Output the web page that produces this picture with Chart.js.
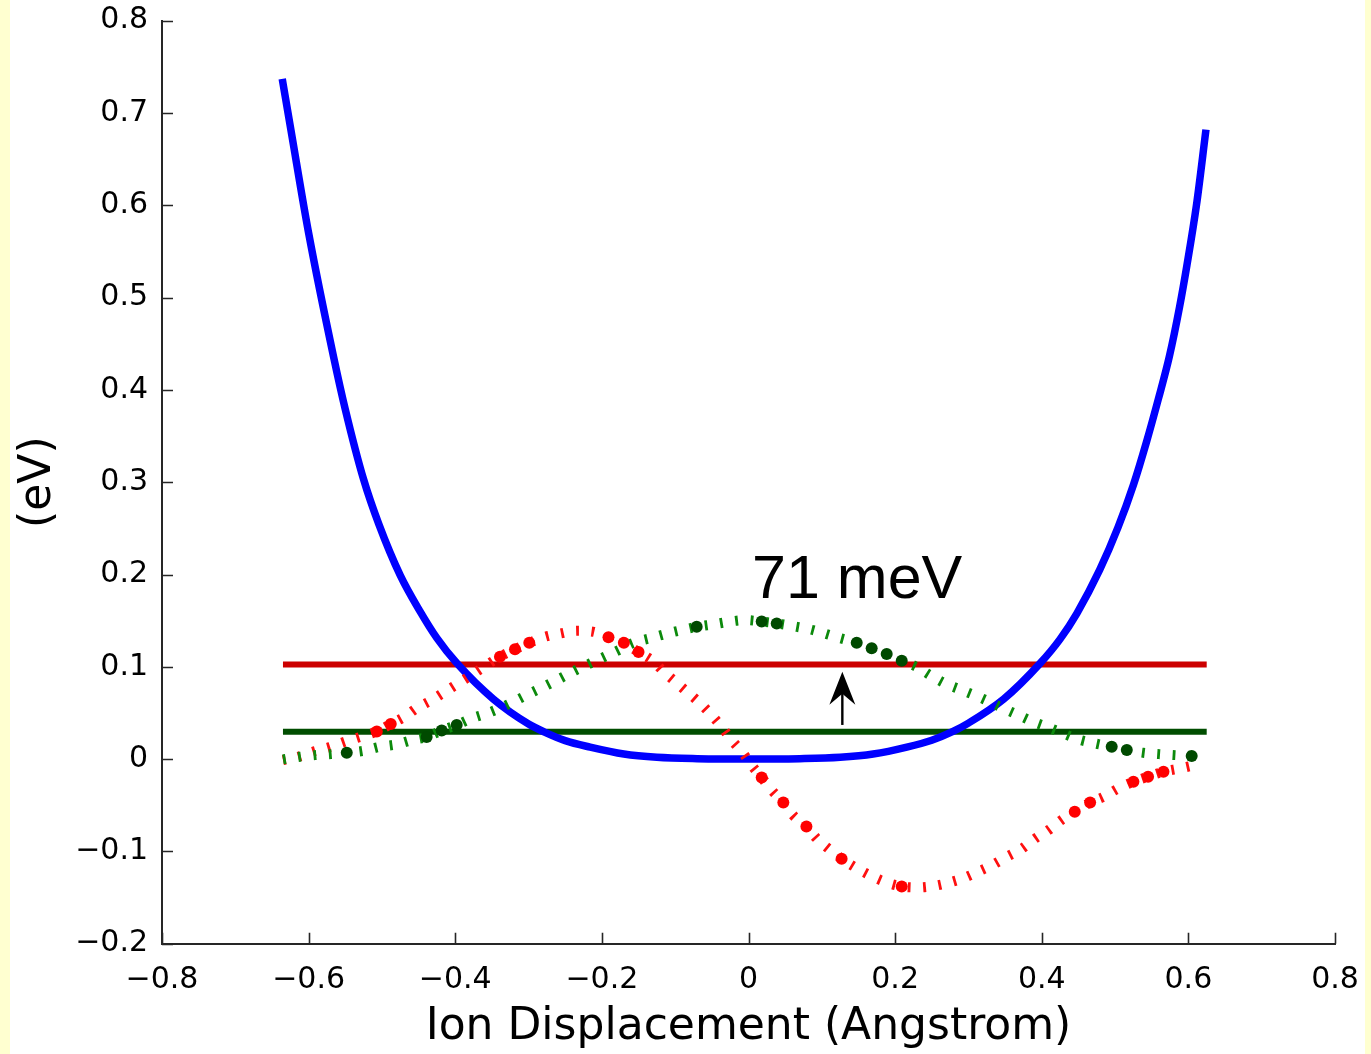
<!DOCTYPE html>
<html>
<head>
<meta charset="utf-8">
<script src="https://cdn.jsdelivr.net/npm/chart.js@4.4.1/dist/chart.umd.min.js"></script>
<style>
  html, body { margin: 0; padding: 0; background: #FFFFD0; width: 1371px; height: 1054px; overflow: hidden; }
  #wrap { position: absolute; left: 10px; top: 0; width: 1355px; height: 1054px; background: #ffffff; }
  canvas { display: block; }
</style>
</head>
<body>
<div id="wrap"><canvas id="c" width="1355" height="1054"></canvas></div>
<script>
// ---------- data ----------
const xTickLabels = ['\u22120.8', '\u22120.6', '\u22120.4', '\u22120.2', '0', '0.2', '0.4', '0.6', '0.8'];
const yTickLabels = ['\u22120.2', '\u22120.1', '0', '0.1', '0.2', '0.3', '0.4', '0.5', '0.6', '0.7', '0.8'];

const blueX = [-0.636,-0.624,-0.600,-0.566,-0.550,-0.525,-0.504,-0.475,-0.448,-0.425,-0.398,-0.348,-0.300,-0.279,-0.250,-0.216,-0.170,-0.125,-0.070,0,0.070,0.125,0.170,0.216,0.250,0.279,0.300,0.348,0.398,0.425,0.448,0.479,0.504,0.525,0.543,0.559,0.574,0.588,0.598,0.611,0.624];
const blueY = [0.737,0.681,0.570,0.436,0.379,0.303,0.254,0.199,0.160,0.131,0.104,0.065,0.038,0.0295,0.020,0.013,0.0055,0.002,0.0005,0,0.0005,0.002,0.0055,0.013,0.0205,0.030,0.039,0.065,0.104,0.130,0.158,0.205,0.251,0.297,0.344,0.390,0.436,0.490,0.535,0.600,0.682];

const levelX = [-0.635, 0.625];
const groundLevel = 0.0296;
const excitedLevel = 0.1026;

const redX = [-0.635,-0.614,-0.594,-0.571,-0.550,-0.530,-0.507,-0.488,-0.469,-0.453,-0.432,-0.414,-0.396,-0.378,-0.357,-0.339,-0.3185,-0.299,-0.278,-0.257,-0.234,-0.212,-0.191,-0.170,-0.150,-0.130,-0.116,-0.100,-0.084,-0.068,-0.0525,-0.0366,-0.023,-0.009,0.004,0.018,0.032,0.0475,0.061,0.079,0.093,0.109,0.127,0.145,0.166,0.186,0.209,0.229,0.251,0.2725,0.293,0.313,0.332,0.352,0.373,0.391,0.409,0.427,0.445,0.466,0.484,0.504,0.525,0.545,0.566,0.589,0.609];
const redY = [-0.001,0.0025,0.008,0.013,0.019,0.024,0.030,0.038,0.046,0.055,0.064,0.073,0.082,0.091,0.102,0.111,0.119,0.126,0.1325,0.136,0.139,0.138,0.132,0.126,0.116,0.106,0.095,0.084,0.073,0.062,0.0495,0.035,0.0206,0.008,-0.0065,-0.020,-0.034,-0.047,-0.061,-0.073,-0.086,-0.097,-0.108,-0.117,-0.126,-0.133,-0.138,-0.139,-0.1376,-0.134,-0.129,-0.122,-0.115,-0.106,-0.097,-0.086,-0.077,-0.066,-0.057,-0.047,-0.041,-0.032,-0.0246,-0.019,-0.0137,-0.010,-0.0065];
const redDotX = [-0.507,-0.488,-0.339,-0.3185,-0.299,-0.191,-0.170,-0.150,0.018,0.0475,0.079,0.127,0.209,0.445,0.466,0.525,0.545,0.566];
const redDotY = [0.030,0.038,0.111,0.119,0.126,0.132,0.126,0.116,-0.020,-0.047,-0.073,-0.108,-0.138,-0.057,-0.047,-0.0246,-0.019,-0.0137];

const greenX = [-0.635,-0.612,-0.591,-0.569,-0.548,-0.525,-0.503,-0.480,-0.459,-0.439,-0.4185,-0.398,-0.378,-0.357,-0.337,-0.316,-0.296,-0.275,-0.257,-0.237,-0.216,-0.196,-0.175,-0.157,-0.134,-0.114,-0.091,-0.0707,-0.048,-0.025,-0.005,0.018,0.0385,0.061,0.084,0.104,0.125,0.1476,0.168,0.1885,0.209,0.229,0.2476,0.268,0.2885,0.309,0.329,0.3476,0.368,0.3885,0.409,0.4294,0.450,0.4727,0.4954,0.516,0.5385,0.560,0.582,0.6045];
const greenY = [-0.0003,0.0025,0.0043,0.0054,0.0069,0.009,0.0133,0.016,0.0206,0.024,0.031,0.037,0.044,0.0495,0.056,0.064,0.072,0.080,0.0874,0.0957,0.1037,0.111,0.119,0.126,0.131,0.1354,0.1398,0.1433,0.146,0.149,0.1506,0.149,0.147,0.144,0.1405,0.136,0.131,0.126,0.120,0.1138,0.1065,0.100,0.091,0.082,0.0755,0.069,0.062,0.055,0.0477,0.0404,0.0343,0.0278,0.0213,0.017,0.0133,0.0098,0.0068,0.0054,0.0043,0.0033];
const greenDotX = [-0.548,-0.439,-0.4185,-0.398,-0.0707,0.018,0.0385,0.1476,0.168,0.1885,0.209,0.4954,0.516,0.6045];
const greenDotY = [0.0069,0.024,0.031,0.037,0.1433,0.149,0.147,0.126,0.120,0.1138,0.1065,0.0133,0.0098,0.0033];

const arrowX = 0.128;
const arrowFrom = 0.037;
const arrowTo = 0.0947;
const gapLabel = '71 meV';
const gapLabelPos = [0.0048, 0.1744];

// ---------- helpers ----------
const pts = (xs, ys) => xs.map((x, i) => ({ x: x, y: ys[i] }));

const inwardTicks = {
  id: 'inwardTicks',
  afterDraw(chart) {
    const ctx = chart.ctx, xs = chart.scales.x, ys = chart.scales.y, a = chart.chartArea;
    ctx.save();
    ctx.strokeStyle = '#262626';
    ctx.lineWidth = 1.6;
    ctx.beginPath();
    xs.ticks.forEach(t => {
      const p = Math.round(xs.getPixelForValue(t.value)) + 0.5;
      ctx.moveTo(p, a.bottom); ctx.lineTo(p, a.bottom - 11);
    });
    ys.ticks.forEach(t => {
      const p = Math.round(ys.getPixelForValue(t.value)) + 0.5;
      ctx.moveTo(a.left, p); ctx.lineTo(a.left + 11, p);
    });
    ctx.stroke();
    ctx.restore();
  }
};

const annotations = {
  id: 'annotations',
  afterDatasetsDraw(chart) {
    const ctx = chart.ctx, xs = chart.scales.x, ys = chart.scales.y;
    const ax = xs.getPixelForValue(arrowX);
    const y0 = ys.getPixelForValue(arrowFrom);
    const y1 = ys.getPixelForValue(arrowTo);
    ctx.save();
    ctx.strokeStyle = '#000';
    ctx.fillStyle = '#000';
    ctx.lineWidth = 2.4;
    ctx.beginPath();
    ctx.moveTo(ax, y0); ctx.lineTo(ax, y1 + 20);
    ctx.stroke();
    ctx.beginPath();
    ctx.moveTo(ax, y1);
    ctx.lineTo(ax - 13, y1 + 33);
    ctx.lineTo(ax, y1 + 22);
    ctx.lineTo(ax + 13, y1 + 33);
    ctx.closePath();
    ctx.fill();
    ctx.font = '61px "Liberation Sans", Arial, sans-serif';
    ctx.textAlign = 'left';
    ctx.textBaseline = 'alphabetic';
    ctx.fillText(gapLabel, xs.getPixelForValue(gapLabelPos[0]), ys.getPixelForValue(gapLabelPos[1]));
    ctx.restore();
  }
};

const noPad = (s) => { s.paddingTop = 0; s.paddingBottom = 0; s.paddingLeft = 0; s.paddingRight = 0; };

const tickFont = { family: '"DejaVu Sans", sans-serif', size: 30 };
const titleFont = { family: '"DejaVu Sans", sans-serif', size: 44 };

new Chart(document.getElementById('c'), {
  type: 'line',
  data: {
    datasets: [
      { data: pts(greenDotX, greenDotY), showLine: false, pointRadius: 6, pointBackgroundColor: '#004a00', pointBorderWidth: 0, pointBorderColor: '#004a00' },
      { data: pts(redDotX, redDotY), showLine: false, pointRadius: 6, pointBackgroundColor: '#ff0000', pointBorderWidth: 0, pointBorderColor: '#ff0000' },
      { data: pts(greenX, greenY), borderColor: '#0c8a0c', borderWidth: 10, borderDash: [2.8, 12.6], borderCapStyle: 'butt', pointRadius: 0, cubicInterpolationMode: 'monotone' },
      { data: pts(redX, redY), borderColor: '#ff1010', borderWidth: 10, borderDash: [2.8, 12.6], borderCapStyle: 'butt', pointRadius: 0, cubicInterpolationMode: 'monotone' },
      { data: pts(blueX, blueY), borderColor: '#0000ff', borderWidth: 7.5, pointRadius: 0, cubicInterpolationMode: 'monotone' },
      { data: pts(levelX, [groundLevel, groundLevel]), borderColor: '#004d00', borderWidth: 6, pointRadius: 0 },
      { data: pts(levelX, [excitedLevel, excitedLevel]), borderColor: '#cc0000', borderWidth: 6, pointRadius: 0 }
    ]
  },
  options: {
    responsive: false,
    animation: false,
    devicePixelRatio: 1,
    layout: { padding: { top: 20.7, right: 30, left: 0, bottom: 0 } },
    plugins: { legend: { display: false }, tooltip: { enabled: false } },
    scales: {
      x: {
        type: 'linear', min: -0.8, max: 0.8,
        ticks: { stepSize: 0.2, color: '#000', font: tickFont, padding: 19, maxRotation: 0,
                 callback: (v) => xTickLabels[Math.round((v + 0.8) / 0.2)] },
        grid: { display: false, drawTicks: false },
        border: { display: true, color: '#262626', width: 2 },
        title: { display: true, text: 'Ion Displacement (Angstrom)', color: '#000', font: titleFont, padding: { top: 0, bottom: 0 } },
        afterFit: (s) => { s.height = 110.3; noPad(s); }
      },
      y: {
        type: 'linear', min: -0.2, max: 0.8,
        ticks: { stepSize: 0.1, color: '#000', font: tickFont, padding: 14,
                 callback: (v) => yTickLabels[Math.round((v + 0.2) / 0.1)] },
        grid: { display: false, drawTicks: false },
        border: { display: true, color: '#262626', width: 2 },
        title: { display: true, text: '(eV)', color: '#000', font: titleFont, padding: { top: 2, bottom: 0 } },
        afterFit: (s) => { s.width = 152; noPad(s); }
      }
    }
  },
  plugins: [inwardTicks, annotations]
});
</script>
</body>
</html>
